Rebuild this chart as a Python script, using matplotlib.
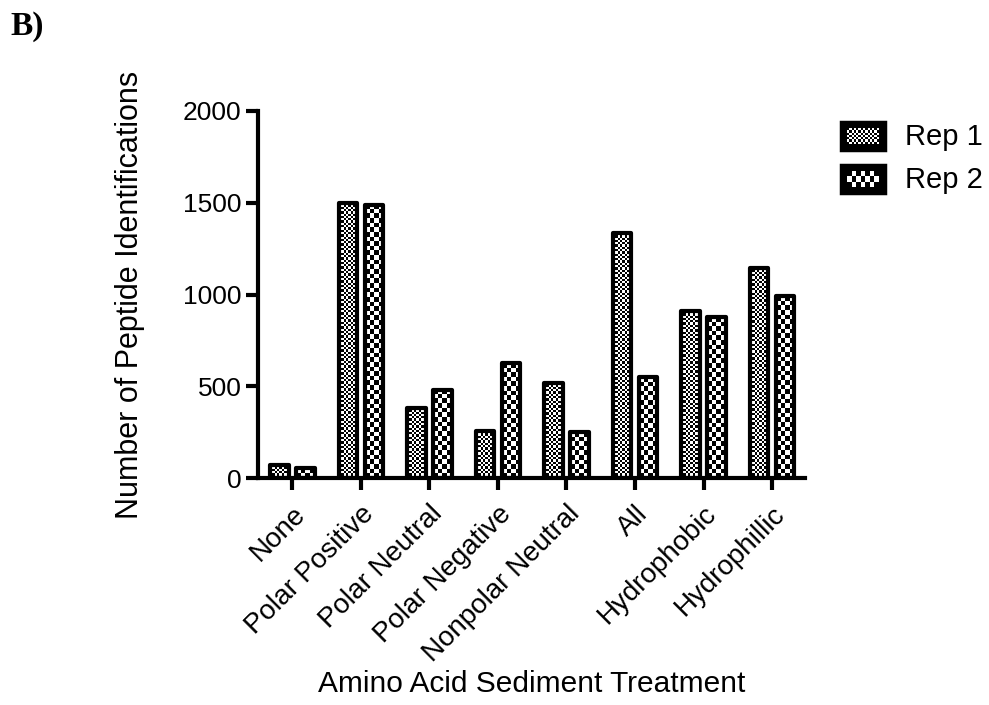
import numpy as np
import matplotlib
matplotlib.use('Agg')
import matplotlib.pyplot as plt
from matplotlib.patches import Rectangle

# data
categories = ['None', 'Polar Positive', 'Polar Neutral', 'Polar Negative',
              'Nonpolar Neutral', 'All', 'Hydrophobic', 'Hydrophillic']
rep1 = [72, 1500, 383, 255, 520, 1335, 910, 1145]
rep2 = [56, 1488, 481, 625, 250, 550, 875, 990]
series_names = ['Rep 1', 'Rep 2']
yticks = [0, 500, 1000, 1500, 2000]

plt.rcParams['font.family'] = ['Liberation Sans', 'DejaVu Sans']

W, H, DPI = 989, 705, 100
fig = plt.figure(figsize=(W / DPI, H / DPI), dpi=DPI)
ax = fig.add_axes([258 / W, 1 - 478 / H, (805 - 258) / W, (478 - 111) / H])

xlim = (-0.50, 7.48)
ax.set_xlim(*xlim)
ax.set_ylim(0, 2000)

x = np.arange(len(categories))
bw = 0.27
off = 0.19
cell_px = [2.3, 4.6]   # checker square size in pixels for rep 1 / rep 2


def checker(ny, nx):
    return (np.indices((ny, nx)).sum(axis=0) % 2).astype(float)


def fill_checker(axis, rect, cell, trans):
    x0, y0 = rect.get_x(), rect.get_y()
    x1, y1 = x0 + rect.get_width(), y0 + rect.get_height()
    p0 = trans.transform((x0, y0))
    p1 = trans.transform((x1, y1))
    nx = max(1, int(round(abs(p1[0] - p0[0]) / cell)))
    ny = max(1, int(round(abs(p1[1] - p0[1]) / cell)))
    im = axis.imshow(checker(ny, nx), cmap='gray', vmin=0, vmax=1,
                     interpolation='nearest', extent=(x0, x1, y0, y1),
                     aspect='auto', zorder=1, origin='lower')
    im.set_clip_path(rect)


for vals, sign, cell in [(rep1, -1, cell_px[0]), (rep2, 1, cell_px[1])]:
    bars = ax.bar(x + sign * off, vals, width=bw, facecolor='none',
                  edgecolor='black', linewidth=3, joinstyle='round', zorder=2)
    for b in bars:
        fill_checker(ax, b, cell, ax.transData)

ax.set_xlim(*xlim)
ax.set_ylim(0, 2000)

for s in ['top', 'right']:
    ax.spines[s].set_visible(False)
for s in ['left', 'bottom']:
    ax.spines[s].set_linewidth(3)
    ax.spines[s].set_zorder(3)

ax.set_yticks(yticks)
ax.set_xticks(x)
ax.set_xticklabels(categories, rotation=45, ha='right', rotation_mode='anchor')
ax.tick_params(axis='both', direction='out', length=8.5, width=3)
ax.tick_params(axis='y', labelsize=19, pad=3.5)
ax.tick_params(axis='x', labelsize=20, pad=8)

ax.set_ylabel('Number of Peptide Identifications', fontsize=22, labelpad=27)
ax.set_xlabel('Amino Acid Sediment Treatment', fontsize=21.5, labelpad=2)

# legend drawn by hand so the checker fill matches the bars
lax = fig.add_axes([0, 0, 1, 1])
lax.set_xlim(0, W)
lax.set_ylim(H, 0)
lax.axis('off')
for i, (name, cell) in enumerate(zip(series_names, cell_px)):
    ytop = 122 + i * 43
    lax.add_patch(Rectangle((841, ytop), 44, 28, facecolor='black',
                            edgecolor='black', linewidth=2.5, zorder=0.5))
    inner = Rectangle((847, ytop + 6), 32, 16, facecolor='none', edgecolor='none')
    lax.add_patch(inner)
    fill_checker(lax, inner, cell, lax.transData)
    lax.text(905, ytop + 15, name, fontsize=21, va='center', ha='left')
lax.set_xlim(0, W)
lax.set_ylim(H, 0)

fig.text(10 / W, 1 - 27 / H, 'B)', fontsize=24, fontweight='bold',
         family='Liberation Serif', va='center', ha='left')

fig.savefig('out.png', dpi=DPI)
